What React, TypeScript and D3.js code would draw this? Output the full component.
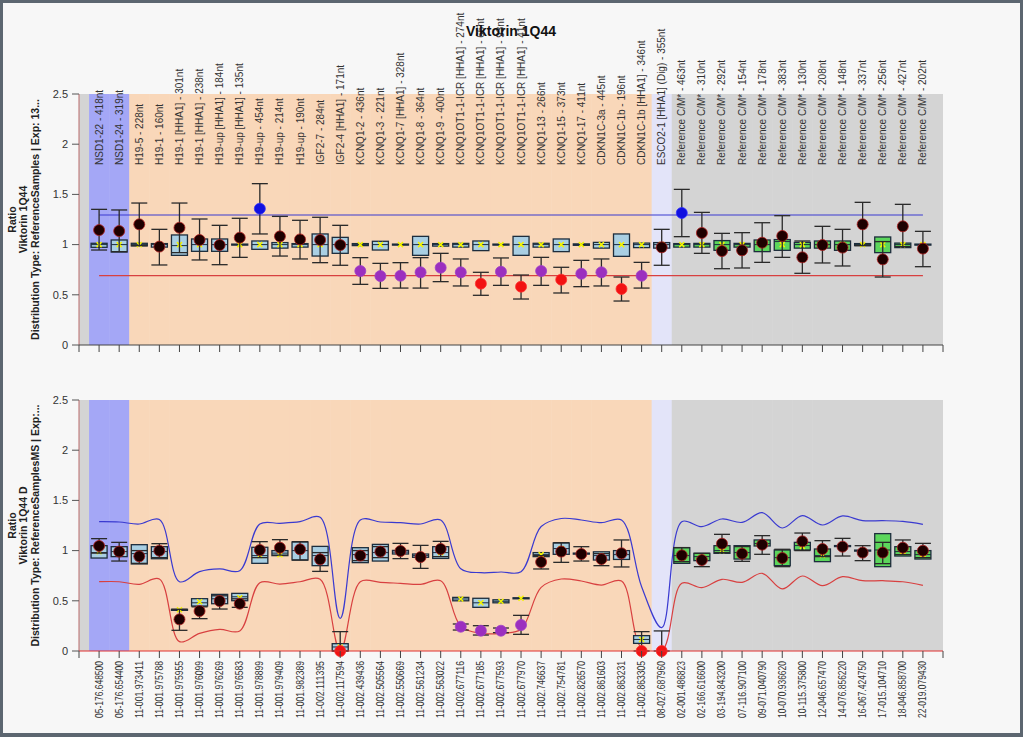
import React from "react";
import * as d3 from "d3";

// ---------- DATA ----------
const topLabels = [
  "NSD1-22 - 418nt", "NSD1-24 - 319nt", "H19-5 - 228nt", "H19-1 - 160nt", "H19-1 [HHA1] - 301nt",
  "H19-1 [HHA1] - 238nt", "H19-up [HHA1] - 184nt", "H19-up [HHA1] - 135nt", "H19-up - 454nt", "H19-up - 214nt",
  "H19-up - 190nt", "IGF2-7 - 284nt", "IGF2-4 [HHA1] - 171nt", "KCNQ1-2 - 436nt", "KCNQ1-3 - 221nt",
  "KCNQ1-7 [HHA1] - 328nt", "KCNQ1-8 - 364nt", "KCNQ1-9 - 400nt", "KCNQ1OT1-1-ICR [HHA1] - 274nt",
  "KCNQ1OT1-1-ICR [HHA1] - 66nt", "KCNQ1OT1-1-ICR [HHA1] - 93nt", "KCNQ1OT1-1-ICR [HHA1] - 41nt",
  "KCNQ1-13 - 266nt", "KCNQ1-15 - 373nt", "KCNQ1-17 - 411nt", "CDKN1C-3a - 445nt", "CDKN1C-1b - 196nt",
  "CDKN1C-1b [HHA1] - 346nt", "ESCO2-1 [HHA1] (Dig) - 355nt",
  "Reference C/M* - 463nt", "Reference C/M* - 310nt", "Reference C/M* - 292nt", "Reference C/M* - 154nt",
  "Reference C/M* - 178nt", "Reference C/M* - 383nt", "Reference C/M* - 130nt", "Reference C/M* - 208nt",
  "Reference C/M* - 148nt", "Reference C/M* - 337nt", "Reference C/M* - 256nt", "Reference C/M* - 427nt",
  "Reference C/M* - 202nt",
];

const bottomLabels = [
  "05-176.648500", "05-176.654400", "11-001.973411", "11-001.975788", "11-001.975955", "11-001.976099",
  "11-001.976269", "11-001.976583", "11-001.978899", "11-001.979409", "11-001.982389", "11-002.111395",
  "11-002.117594", "11-002.439436", "11-002.505564", "11-002.550669", "11-002.561234", "11-002.563022",
  "11-002.677116", "11-002.677185", "11-002.677593", "11-002.677970", "11-002.746637", "11-002.754781",
  "11-002.826570", "11-002.861603", "11-002.863231", "11-002.863305", "08-027.687960", "02-001.486823",
  "02-166.616600", "03-194.843200", "07-116.907100", "09-071.040790", "10-070.936620", "10-115.375800",
  "12-046.657470", "14-076.856220", "16-067.424750", "17-015.104710", "18-046.858700", "22-019.079430",
];

const yTicks = [0, 0.5, 1, 1.5, 2, 2.5];
const topThresholds = [0.69, 1.295];

// top panel
const topDot = [1.145, 1.135, 1.202, 0.98, 1.168, 1.046, 0.996, 1.069, 1.358, 1.082, 1.052, 1.046, 0.996,
  0.737, 0.687, 0.69, 0.724, 0.77, 0.724, 0.611, 0.73, 0.581, 0.737, 0.651, 0.71, 0.724, 0.558, 0.69, 0.973,
  1.315, 1.116, 0.936, 0.943, 1.019, 1.086, 0.873, 0.996, 0.97, 1.202, 0.853, 1.182, 0.96];
const topErrHi = [1.351, 1.345, 1.414, 1.152, 1.414, 1.255, 1.192, 1.262, 1.607, 1.281, 1.242, 1.272, 1.192,
  0.87, 0.813, 0.82, 0.87, 0.913, 0.857, 0.724, 0.867, 0.697, 0.873, 0.774, 0.843, 0.857, 0.677, 0.823, 1.152,
  1.55, 1.321, 1.112, 1.119, 1.218, 1.288, 1.036, 1.182, 1.152, 1.421, 1.03, 1.401, 1.132];
const topErrLo = [0.946, 0.93, 0.99, 0.797, 0.92, 0.847, 0.80, 0.873, 1.106, 0.886, 0.857, 0.82, 0.794,
  0.604, 0.564, 0.567, 0.567, 0.631, 0.588, 0.495, 0.594, 0.458, 0.594, 0.518, 0.581, 0.588, 0.438, 0.567, 0.794,
  1.079, 0.913, 0.76, 0.767, 0.823, 0.873, 0.714, 0.817, 0.787, 0.99, 0.677, 0.98, 0.78];
const topQ1 = [0.973, 0.926, 0.987, 0.975, 0.893, 0.933, 0.933, 0.995, 0.953, 0.965, 0.975, 0.886, 0.913,
  0.99, 0.946, 0.995, 0.893, 0.985, 0.975, 0.94, 0.995, 0.893, 0.975, 0.93, 0.993, 0.965, 0.883, 0.97, 0.965,
  0.975, 0.975, 0.943, 0.975, 0.93, 0.943, 0.965, 0.965, 0.943, 0.99, 0.92, 0.97, 0.995];
const topMedian = [1.0, 1.0, 1.0, 1.0, 0.99, 1.0, 1.0, 1.0, 1.0, 1.0, 1.0, 1.0, 1.0,
  1.0, 1.0, 1.0, 1.0, 1.0, 1.0, 1.0, 1.0, 1.0, 1.0, 1.0, 1.0, 1.0, 1.0, 1.0, 1.0,
  1.0, 1.0, 1.0, 1.0, 1.0, 1.03, 1.0, 1.0, 1.0, 1.0, 1.03, 1.0, 1.0];
const topQ3 = [1.013, 1.046, 1.013, 1.01, 1.096, 1.056, 1.056, 1.005, 1.036, 1.02, 1.01, 1.106, 1.072,
  1.01, 1.033, 1.005, 1.082, 1.01, 1.012, 1.036, 1.005, 1.082, 1.013, 1.056, 1.007, 1.022, 1.106, 1.015, 1.02,
  1.01, 1.012, 1.04, 1.012, 1.046, 1.05, 1.022, 1.036, 1.036, 1.01, 1.076, 1.015, 1.005];
const topMean = [1.0, 1.0, 1.0, 1.0, 1.0, 1.0, 1.0, 1.0, 1.0, 1.0, 1.0, 1.0, 1.0,
  1.0, 1.0, 1.0, 1.0, 1.0, 1.0, 1.0, 1.0, 1.0, 1.0, 1.0, 1.0, 1.0, 1.0, 1.0, 1.0,
  1.0, 1.0, 1.0, 1.0, 1.0, 1.0, 1.0, 1.0, 1.0, 1.0, 1.0, 1.0, 1.0];
const topStatus = ["n", "n", "n", "n", "n", "n", "n", "n", "h", "n", "n", "n", "n",
  "p", "p", "p", "p", "p", "p", "r", "p", "r", "p", "r", "p", "p", "r", "p", "n",
  "h", "n", "n", "n", "n", "n", "n", "n", "n", "n", "n", "n", "n"];

// bottom panel
const botDot = [1.046, 0.99, 0.943, 0.999, 0.315, 0.398, 0.498, 0.471, 1.006, 1.029, 1.013, 0.913, 0,
  0.95, 0.99, 0.996, 0.936, 1.016, 0.242, 0.202, 0.202, 0.259, 0.886, 0.99, 0.966, 0.916, 0.973, 0, 0,
  0.953, 0.906, 1.069, 0.969, 1.059, 0.926, 1.092, 1.016, 1.039, 0.98, 0.98, 1.029, 0.999];
const botErrHi = [1.119, 1.082, 1.0, 1.069, 0.415, 0.44, 0.55, 0.52, 1.089, 1.109, 1.089, 0.98, 0.193,
  1.0, 1.04, 1.072, 1.052, 1.092, 0.269, 0.252, 0.229, 0.355, 0.95, 1.079, 1.039, 0.97, 1.106, 0.193, 0.2,
  1.03, 0.973, 1.162, 1.04, 1.149, 1.013, 1.175, 1.099, 1.122, 1.049, 1.082, 1.106, 1.072];
const botErrLo = [0.975, 0.896, 0.873, 0.93, 0.206, 0.322, 0.418, 0.435, 0.93, 0.955, 0.906, 0.793, 0,
  0.9, 0.93, 0.92, 0.823, 0.94, 0.209, 0.159, 0.183, 0.166, 0.817, 0.883, 0.896, 0.85, 0.837, 0, 0,
  0.89, 0.84, 0.98, 0.893, 0.963, 0.84, 1.0, 0.94, 0.946, 0.9, 0.87, 0.96, 0.93];
const botQ1 = [0.926, 0.94, 0.867, 0.919, 0.405, 0.448, 0.471, 0.501, 0.873, 0.95, 0.906, 0.85, 0.0,
  0.88, 0.896, 0.966, 0.933, 0.922, 0.5, 0.435, 0.48, 0.52, 0.94, 0.963, 0.965, 0.906, 0.912, 0.076, 0,
  0.873, 0.9, 0.973, 0.916, 1.046, 0.85, 1.006, 0.89, 1.04, 0.995, 0.84, 0.946, 0.916];
const botMedian = [0.98, 0.99, 0.97, 0.99, 0.41, 0.48, 0.52, 0.54, 0.95, 0.975, 1.0, 0.95, 0.04,
  0.96, 0.98, 0.985, 0.95, 0.98, 0.518, 0.48, 0.495, 0.525, 0.96, 1.02, 0.97, 0.95, 0.96, 0.115, 0,
  0.95, 0.94, 1.0, 0.98, 1.07, 0.93, 1.05, 0.95, 1.046, 1.0, 1.006, 0.99, 0.96];
const botQ3 = [1.049, 1.039, 1.059, 1.039, 0.415, 0.521, 0.564, 0.574, 1.033, 1.0, 1.086, 1.042, 0.073,
  1.029, 1.062, 1.002, 0.966, 1.039, 0.534, 0.525, 0.51, 0.53, 0.98, 1.076, 0.975, 0.988, 1.0, 0.153, 0,
  1.029, 0.973, 1.049, 1.049, 1.106, 1.006, 1.082, 1.016, 1.05, 1.005, 1.169, 1.039, 1.0];
const botMean = [0.99, 0.99, 0.96, 0.99, 0.41, 0.49, 0.52, 0.53, 0.95, 0.96, 1.0, 0.93, 0.04,
  0.95, 0.98, 0.985, 0.95, 0.98, 0.518, 0.48, 0.495, 0.525, 0.96, 1.02, 0.97, 0.95, 0.96, 0.115, 0,
  0.95, 0.93, 1.0, 0.98, 1.07, 0.93, 1.04, 0.955, 1.046, 1.0, 1.0, 0.99, 0.96];
const botStatus = ["n", "n", "n", "n", "n", "n", "n", "n", "n", "n", "n", "n", "r",
  "n", "n", "n", "n", "n", "p", "p", "p", "p", "n", "n", "n", "n", "n", "r", "r",
  "n", "n", "n", "n", "n", "n", "n", "n", "n", "n", "n", "n", "n"];
const botUpper = [1.288, 1.285, 1.265, 1.31, 0.69, 0.79, 0.817, 0.80, 1.265, 1.272, 1.288, 1.331, 0.325,
  1.305, 1.285, 1.278, 1.265, 1.305, 0.82, 0.78, 0.787, 0.79, 1.24, 1.32, 1.305, 1.278, 1.305, 0.64, 0.232,
  1.288, 1.238, 1.315, 1.281, 1.378, 1.225, 1.348, 1.255, 1.345, 1.298, 1.298, 1.291, 1.262];
const botLower = [0.69, 0.69, 0.664, 0.717, 0.093, 0.176, 0.216, 0.2, 0.68, 0.667, 0.69, 0.714, 0.0,
  0.69, 0.684, 0.674, 0.664, 0.70, 0.245, 0.176, 0.176, 0.216, 0.634, 0.717, 0.697, 0.657, 0.697, 0.03, 0.0,
  0.674, 0.631, 0.714, 0.684, 0.774, 0.618, 0.747, 0.651, 0.74, 0.70, 0.70, 0.69, 0.654];

// ---------- STYLE ----------
const FONT = "'Liberation Sans', Arial, sans-serif";
const groupColor: Record<string, string> = {
  ctrl: "#a4a7f6",
  test: "#f9d7b9",
  dig: "#e3e4f9",
  ref: "#d4d4d4",
};
const dotFill: Record<string, string> = { n: "#1e0000", h: "#1010e0", p: "#9b2fbf", r: "#f21212" };
const dotStroke: Record<string, string> = { n: "#b02020", h: "#3030ff", p: "#a040c8", r: "#ff3030" };

function groupOf(label: string): string {
  if (label.startsWith("NSD1")) return "ctrl";
  if (label.startsWith("ESCO2")) return "dig";
  if (label.startsWith("Reference")) return "ref";
  return "test";
}

const x = d3.scaleLinear().domain([0, topLabels.length + 1]).range([79, 943]);
const idx = topLabels.map((_, i) => i + 1);
const groups = topLabels.map(groupOf);

type PanelProps = {
  y: d3.ScaleLinear<number, number>;
  dot: number[]; hi: number[]; lo: number[];
  q1: number[]; med: number[]; q3: number[]; mean: number[];
  status: string[];
  upper: number[]; lower: number[];
  curved: boolean;
  axisColor: string;
  titleLines: string[];
  clipId: string;
};

function Panel(p: PanelProps) {
  const { y } = p;
  const [y0, y1] = y.range();
  const line = d3.line<number>()
    .x((_, i) => x(idx[i]))
    .y((v) => y(v))
    .curve(p.curved ? d3.curveCatmullRom.alpha(0.5) : d3.curveLinear);
  const bw = 16;
  const cap = 16;
  const midY = (y0 + y1) / 2;
  return (
    <g>
      <defs>
        <clipPath id={p.clipId}>
          <rect x={x(0)} y={y1} width={x(topLabels.length + 1) - x(0)} height={y0 - y1} />
        </clipPath>
      </defs>
      {/* backgrounds */}
      <rect x={x(0)} y={y1} width={x(0.5) - x(0)} height={y0 - y1} fill={groupColor.ref} />
      {idx.map((c, i) => (
        <rect key={"bg" + i} x={x(c - 0.5)} y={y1} width={x(c + 0.5) - x(c - 0.5) + 0.5}
          height={y0 - y1} fill={groupColor[groups[i]]} />
      ))}
      <rect x={x(topLabels.length + 0.5)} y={y1} width={x(topLabels.length + 1) - x(topLabels.length + 0.5)}
        height={y0 - y1} fill={groupColor.ref} />

      {/* threshold curves */}
      <g clipPath={`url(#${p.clipId})`}>
        <path d={line(p.upper) || ""} fill="none" stroke="#3a3ad0" strokeWidth={1.2} />
        <path d={line(p.lower) || ""} fill="none" stroke="#d84040" strokeWidth={1.2} />
      </g>

      {/* boxes */}
      {idx.map((c, i) => {
        const top = y(p.q3[i]);
        const bot = y(p.q1[i]);
        const h = Math.max(bot - top, 0);
        if (p.q3[i] <= 0) return null;
        const fill = groups[i] === "ref" ? "#5cd65c" : "#a9cfe3";
        const mx = x(c);
        const my = y(p.mean[i]);
        return (
          <g key={"box" + i}>
            <rect x={mx - bw / 2} y={top} width={bw} height={Math.max(h, 1)} fill={fill}
              stroke="#1d2d3d" strokeWidth={1.3} />
            <line x1={mx - bw / 2} x2={mx + bw / 2} y1={y(p.med[i])} y2={y(p.med[i])} stroke="#1d2d3d" strokeWidth={1} />
            <path d={`M${mx - 2.5},${my - 2.5}L${mx + 2.5},${my + 2.5}M${mx - 2.5},${my + 2.5}L${mx + 2.5},${my - 2.5}`}
              stroke="#f4f400" strokeWidth={1.5} />
          </g>
        );
      })}

      {/* error bars */}
      {idx.map((c, i) => {
        const mx = x(c);
        return (
          <g key={"err" + i} stroke="#2a2a2a" strokeWidth={1.3}>
            <line x1={mx} x2={mx} y1={y(p.hi[i])} y2={y(p.lo[i])} />
            <line x1={mx - cap / 2} x2={mx + cap / 2} y1={y(p.hi[i])} y2={y(p.hi[i])} />
            <line x1={mx - cap / 2} x2={mx + cap / 2} y1={y(p.lo[i])} y2={y(p.lo[i])} />
          </g>
        );
      })}

      {/* dots */}
      {idx.map((c, i) => (
        <circle key={"dot" + i} cx={x(c)} cy={y(p.dot[i])} r={5.5}
          fill={dotFill[p.status[i]]} stroke={dotStroke[p.status[i]]} strokeWidth={0.8} />
      ))}

      {/* y axis */}
      <line x1={x(0)} x2={x(0)} y1={y1} y2={y0} stroke="#b86a6a" strokeWidth={1} />
      {yTicks.map((t) => (
        <g key={"yt" + t}>
          <line x1={x(0) - 7} x2={x(0)} y1={y(t)} y2={y(t)} stroke="#555" />
          <text x={x(0) - 11} y={y(t)} dy="0.35em" textAnchor="end" fontSize={11} fill="#333"
            fontFamily={FONT}>{String(t)}</text>
        </g>
      ))}
      {/* x axis */}
      <line x1={x(0)} x2={x(topLabels.length + 1)} y1={y0} y2={y0} stroke={p.axisColor} strokeWidth={1.2} />
      {[0, ...idx, topLabels.length + 1].map((c) => (
        <line key={"xt" + c} x1={x(c)} x2={x(c)} y1={y0} y2={y0 + 7} stroke="#444" />
      ))}

      {/* axis title */}
      {p.titleLines.map((t, k) => (
        <text key={"tl" + k} transform={`translate(${12 + k * 11.5},${midY}) rotate(-90)`}
          textAnchor="middle" dy="0.35em" fontSize={10.5} fontWeight="bold" fill="#222"
          fontFamily={FONT}>{t}</text>
      ))}
    </g>
  );
}

export default function App() {
  const W = 1023, H = 737;
  const yTop = d3.scaleLinear().domain([0, 2.5]).range([345, 94]);
  const yBot = d3.scaleLinear().domain([0, 2.5]).range([651, 400]);
  const topUpper = idx.map(() => topThresholds[1]);
  const topLower = idx.map(() => topThresholds[0]);
  return (
    <div style={{ position: "fixed", left: 0, top: 0 }}>
      <svg width={W} height={H} style={{ display: "block" }}>
        <rect x={0} y={0} width={W} height={H} fill="#5c6670" />
        <rect x={3} y={3} width={W - 6} height={H - 7} fill="#f7f7f7" />

        <Panel y={yTop} dot={topDot} hi={topErrHi} lo={topErrLo} q1={topQ1} med={topMedian} q3={topQ3}
          mean={topMean} status={topStatus} upper={topUpper} lower={topLower} curved={false}
          axisColor="#444" clipId="clipTop"
          titleLines={["Ratio", "Viktorin 1Q44", "Distribution  Type: ReferenceSamples  |  Exp: 13..."]} />

        <Panel y={yBot} dot={botDot} hi={botErrHi} lo={botErrLo} q1={botQ1} med={botMedian} q3={botQ3}
          mean={botMean} status={botStatus} upper={botUpper} lower={botLower} curved={true}
          axisColor="#e03030" clipId="clipBot"
          titleLines={["Ratio", "Viktorin 1Q44 D", "Distribution  Type: ReferenceSamplesMS  |  Exp:..."]} />

        {/* top category labels inside plot */}
        {topLabels.map((l, i) => (
          <text key={"tlab" + i} transform={`translate(${x(i + 1)},165) rotate(-90)`} dy="0.35em"
            fontSize={10} fill="#333" fontFamily={FONT}>{l}</text>
        ))}

        {/* bottom labels */}
        {bottomLabels.map((l, i) => (
          <text key={"blab" + i} transform={`translate(${x(i + 1)},661) rotate(-90)`} dy="0.35em"
            textAnchor="end" fontSize={10} fill="#333" fontFamily={FONT}
            textLength={57} lengthAdjust="spacingAndGlyphs">{l}</text>
        ))}

        {/* title */}
        <text x={511} y={36} textAnchor="middle" fontSize={14} fontWeight="bold" fill="#111"
          fontFamily={FONT}>Viktorin 1Q44</text>
      </svg>
    </div>
  );
}
